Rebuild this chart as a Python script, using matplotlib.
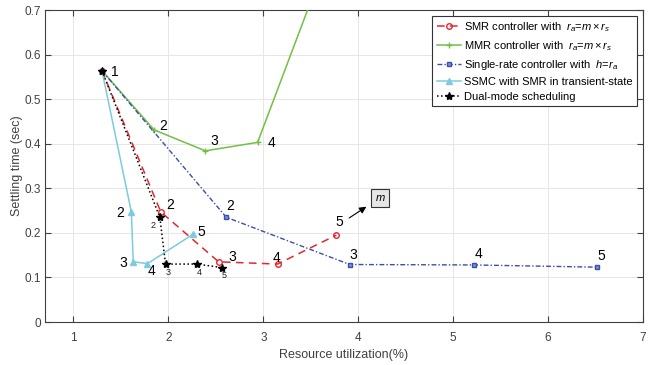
import matplotlib
matplotlib.use('Agg')
import matplotlib.pyplot as plt

# data
smr_x = [1.30, 1.92, 2.53, 3.15, 3.77]
smr_y = [0.564, 0.247, 0.135, 0.130, 0.195]

mmr_x = [1.30, 1.85, 2.39, 2.94, 3.75]
mmr_y = [0.564, 0.431, 0.384, 0.403, 0.86]

single_x = [1.30, 2.61, 3.91, 5.22, 6.52]
single_y = [0.564, 0.235, 0.129, 0.128, 0.123]

ssmc_x = [1.30, 1.61, 1.63, 1.78, 2.26]
ssmc_y = [0.564, 0.247, 0.135, 0.131, 0.197]

dual_x = [1.30, 1.91, 1.97, 2.30, 2.57]
dual_y = [0.564, 0.235, 0.130, 0.130, 0.122]

point_labels = ['1', '2', '3', '4', '5']

plt.rcParams['font.family'] = ['Liberation Sans', 'DejaVu Sans']
plt.rcParams['mathtext.fontset'] = 'custom'
plt.rcParams['mathtext.it'] = 'Liberation Sans:italic'
plt.rcParams['mathtext.rm'] = 'Liberation Sans'

fig = plt.figure(figsize=(6.48, 3.65), dpi=100)
ax = fig.add_axes([0.0694, 0.1178, 0.9229, 0.8548])

red = '#e8262d'
green = '#72c045'
blue = '#3b4ea8'
cyan = '#7ccbe0'

ax.plot(smr_x, smr_y, color=red, lw=1.1, dashes=(5, 3.5), marker='o', ms=4,
        mfc='none', mew=1.0, label=r'SMR controller with  $r_a$=$m\times r_s$', zorder=3)
ax.plot(mmr_x, mmr_y, '-', color=green, lw=1.1, marker='+', ms=4,
        label=r'MMR controller with  $r_a$=$m\times r_s$', zorder=3)
ax.plot(single_x, single_y, color=blue, lw=1.0, dashes=(3.5, 1.5, 1, 1.5), marker='s', ms=3.5,
        mfc='#8090d0', mew=1.0, label=r'Single-rate controller with  $h$=$r_a$', zorder=3)
ax.plot(ssmc_x, ssmc_y, '-', color=cyan, lw=1.1, marker='^', ms=5,
        label='SSMC with SMR in transient-state', zorder=3)
ax.plot(dual_x, dual_y, ':', color='black', lw=1.1, marker='*', ms=6,
        label='Dual-mode scheduling', zorder=4)

big = dict(fontsize=10, ha='center', va='center', textcoords='offset pixels')
small = dict(fontsize=6.5, ha='center', va='center', textcoords='offset pixels', color='#222222')

ax.annotate('1', (smr_x[0], smr_y[0]), xytext=(13, -1), **big)

mmr_off = [(9, 4), (9, 10), (14, -1)]
for i, off in zip(range(1, 4), mmr_off):
    ax.annotate(point_labels[i], (mmr_x[i], mmr_y[i]), xytext=off, **big)

smr_off = [(9, 7), (14, 5), (-1, 6), (3, 13)]
for i, off in zip(range(1, 5), smr_off):
    ax.annotate(point_labels[i], (smr_x[i], smr_y[i]), xytext=off, **big)

single_off = [(4, 11), (4, 10), (4, 11), (4, 11)]
for i, off in zip(range(1, 5), single_off):
    ax.annotate(point_labels[i], (single_x[i], single_y[i]), xytext=off, **big)

ssmc_off = [(-11, -1), (-10, -1), (4, -7), (8, 2)]
for i, off in zip(range(1, 5), ssmc_off):
    ax.annotate(point_labels[i], (ssmc_x[i], ssmc_y[i]), xytext=off, **big)

dual_off = [(-7, -8), (3, -8), (2, -8), (2, -8)]
for i, off in zip(range(1, 5), dual_off):
    ax.annotate(point_labels[i], (dual_x[i], dual_y[i]), xytext=off, **small)

# "m" box with arrow
ax.annotate('', xy=(4.11, 0.262), xytext=(3.88, 0.230),
            arrowprops=dict(arrowstyle='-|>', color='black', lw=0.8, mutation_scale=10))
ax.text(4.23, 0.278, r'$m$', fontsize=8, ha='center', va='center',
        bbox=dict(boxstyle='square,pad=0.35', fc='#e6e6e6', ec='#333333', lw=0.8))

ax.set_xlim(0.7, 7)
ax.set_ylim(0, 0.7)
ax.set_xticks([1, 2, 3, 4, 5, 6, 7])
ax.set_yticks([0, 0.1, 0.2, 0.3, 0.4, 0.5, 0.6, 0.7])
ax.set_yticklabels(['0', '0.1', '0.2', '0.3', '0.4', '0.5', '0.6', '0.7'])
ax.grid(True, color='#e6e6e6', lw=0.7)
ax.set_axisbelow(True)
ax.tick_params(direction='in', top=True, right=True, labelsize=8.5,
               colors='#404040', length=4, width=0.8)
ax.tick_params(axis='x', pad=7)
ax.tick_params(axis='y', pad=3)
for s in ax.spines.values():
    s.set_color('#404040')
    s.set_linewidth(0.8)

ax.set_xlabel('Resource utilization(%)', fontsize=9, color='#404040', labelpad=4)
ax.set_ylabel('Settling time (sec)', fontsize=9, color='#404040', labelpad=1)

leg = ax.legend(loc='upper right', fontsize=8, frameon=True, fancybox=False,
                edgecolor='#333333', framealpha=1, borderpad=0.4, labelspacing=0.45,
                handlelength=2.2, handletextpad=0.3, borderaxespad=0.5)
leg.get_frame().set_linewidth(0.8)

fig.savefig('out.png', dpi=100)
